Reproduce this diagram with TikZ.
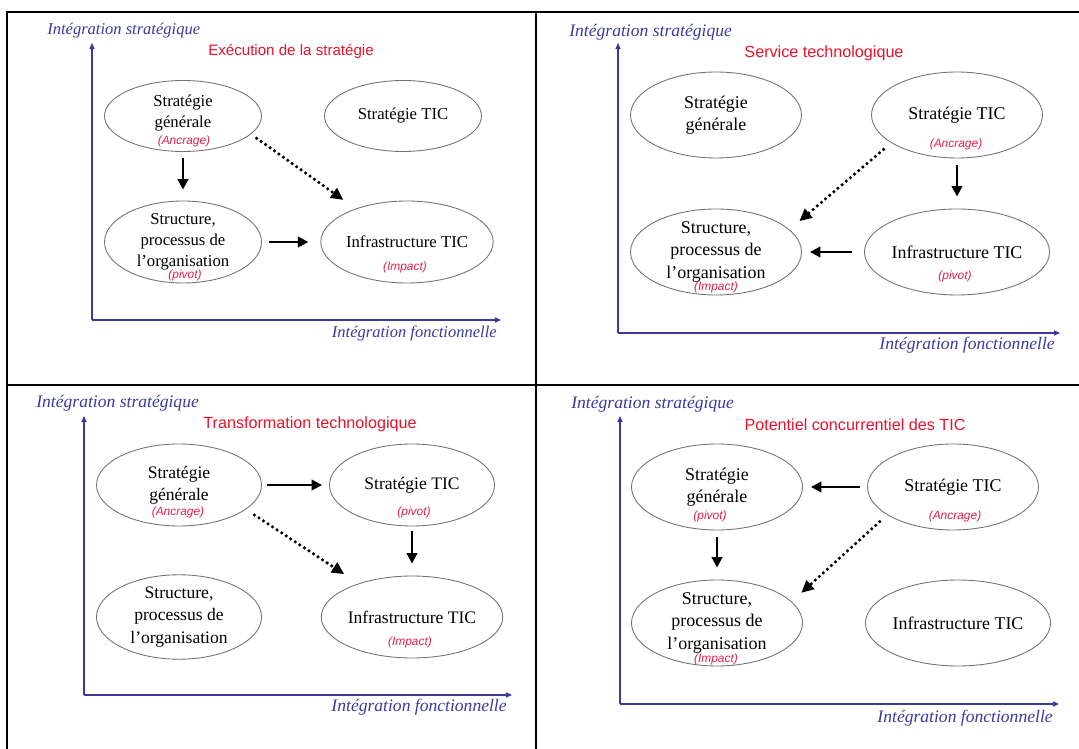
\documentclass[tikz,border=0pt]{standalone}
\usepackage{fontspec}
\setmainfont{Liberation Serif}
\setsansfont{Liberation Sans}
\usetikzlibrary{arrows.meta,shapes.geometric}
\usepackage{xcolor}
\definecolor{AxeBleu}{HTML}{3A3A9E}
\definecolor{TitreRouge}{HTML}{E8132B}
\definecolor{SousRouge}{HTML}{E0204A}

\begin{document}
\begin{tikzpicture}[x=0.02cm, y=-0.02cm,
  cadre/.style={line width=1.1pt},
  axe/.style={AxeBleu, line width=0.6pt, -{Triangle[length=3.5pt,width=3pt]}},
  etiq/.style={AxeBleu, font=\fontsize{10}{12}\selectfont\itshape, inner sep=0pt},
  titre/.style={TitreRouge, font=\sffamily\fontsize{9.2}{11}\selectfont, inner sep=0pt},
  bulle/.style={ellipse, draw=black!55, line width=0.5pt, align=center, inner sep=0pt, minimum width=3.42cm, minimum height=1.72cm, font=\fontsize{10.2}{12.8}\selectfont},
  sous/.style={SousRouge, font=\sffamily\itshape\fontsize{6.8}{8}\selectfont, inner sep=0pt},
  fleche/.style={line width=1.4pt, -{Triangle[length=6pt,width=6pt]}},
  pointille/.style={line width=2pt, line cap=round, dash pattern=on 0pt off 3.1pt, -{Triangle[length=7pt,width=6.5pt]}}]
\useasboundingbox (0,0) rectangle (1079,749);
\draw[cadre] (7.3,12) -- (1079,12);
\draw[cadre] (7.3,384.7) -- (1079,384.7);
\draw[cadre] (7.3,11) -- (7.3,749);
\draw[cadre] (535.7,11) -- (535.7,749);

\begin{scope}[bulle/.append style={minimum width=3.14cm, minimum height=1.64cm, font=\fontsize{9.5}{11.9}\selectfont},
  etiq/.append style={font=\fontsize{9.4}{11}\selectfont\itshape},
  titre/.append style={font=\sffamily\fontsize{8.6}{10}\selectfont}]
\coordinate (o1) at (92,320);
\coordinate (ya1) at (92,43);
\coordinate (xa1) at (501,320);
\draw[axe] (o1) -- (ya1);
\draw[axe] (o1) -- (xa1);
\node[etiq, anchor=west] (is1) at (47,31) {Intégration stratégique};
\node[etiq, anchor=east] (if1) at (497,333) {Intégration fonctionnelle};
\node[titre] (t1) at (291,52) {Exécution de la stratégie};
\node[bulle, minimum height=1.42cm] (sg1) at (183,116) {Stratégie\\générale\\[-6pt]};
\node[bulle, minimum height=1.42cm] (stic1) at (403,116) {Stratégie TIC};
\node[bulle] (sp1) at (183,242) {Structure,\\processus de\\l’organisation};
\node[bulle] (it1) at (407,242) {Infrastructure TIC};
\node[sous] (a1) at (184,141) {(Ancrage)};
\node[sous] (p1) at (185,275) {(pivot)};
\node[sous] (m1) at (405,267) {(Impact)};
\draw[fleche, shorten <=0.12cm, shorten >=0.22cm] (sg1) -- (sp1);
\draw[fleche, shorten <=0.14cm, shorten >=0.24cm] (sp1) -- (it1);
\draw[pointille, shorten <=0.14cm, shorten >=0.3cm] (sg1.-15) -- (it1.147);
\end{scope}

\coordinate (o2) at (618,333);
\coordinate (ya2) at (618,43);
\coordinate (xa2) at (1060,333);
\draw[axe] (o2) -- (ya2);
\draw[axe] (o2) -- (xa2);
\node[etiq, anchor=west] (is2) at (569,32) {Intégration stratégique};
\node[etiq, anchor=east] (if2) at (1055,345) {Intégration fonctionnelle};
\node[titre] (t2) at (824,53) {Service technologique};
\node[bulle] (sg2) at (716,115) {Stratégie\\générale};
\node[bulle] (stic2) at (957,115) {Stratégie TIC};
\node[bulle] (sp2) at (716,252) {Structure,\\processus de\\l’organisation};
\node[bulle] (it2) at (957,252) {Infrastructure TIC};
\node[sous] (a2) at (956,144) {(Ancrage)};
\node[sous] (p2) at (955,276) {(pivot)};
\node[sous] (m2) at (716,287) {(Impact)};
\draw[fleche, shorten <=0.14cm, shorten >=0.24cm] (stic2) -- (it2);
\draw[fleche, shorten <=0.24cm, shorten >=0.16cm] (it2) -- (sp2);
\draw[pointille, shorten <=0.2cm, shorten >=0.26cm] (stic2.203) -- (sp2.17);

\begin{scope}[bulle/.append style={minimum width=3.3cm, minimum height=1.64cm, font=\fontsize{10}{12.6}\selectfont}]
\coordinate (o3) at (84,695);
\coordinate (ya3) at (84,416);
\coordinate (xa3) at (512,695);
\draw[axe] (o3) -- (ya3);
\draw[axe] (o3) -- (xa3);
\node[etiq, anchor=west] (is3) at (36,403) {Intégration stratégique};
\node[etiq, anchor=east] (if3) at (507,707) {Intégration fonctionnelle};
\node[titre] (t3) at (310,424) {Transformation technologique};
\node[bulle] (sg3) at (179,485) {Stratégie\\générale};
\node[bulle] (stic3) at (412,485) {Stratégie TIC};
\node[bulle] (sp3) at (179,617) {Structure,\\processus de\\l’organisation};
\node[bulle] (it3) at (412,617) {Infrastructure TIC};
\node[sous] (a3) at (178,512) {(Ancrage)};
\node[sous] (p3) at (414,512) {(pivot)};
\node[sous] (m3) at (410,642) {(Impact)};
\draw[fleche, shorten <=0.1cm, shorten >=0.14cm] (sg3) -- (stic3);
\draw[fleche, shorten <=0.1cm, shorten >=0.24cm] (stic3) -- (it3);
\draw[pointille, shorten <=0.2cm, shorten >=0.34cm] (sg3.-20) -- (it3.148);
\end{scope}

\coordinate (o4) at (620,704);
\coordinate (ya4) at (620,416);
\coordinate (xa4) at (1059,704);
\draw[axe] (o4) -- (ya4);
\draw[axe] (o4) -- (xa4);
\node[etiq, anchor=west] (is4) at (571,404) {Intégration stratégique};
\node[etiq, anchor=east] (if4) at (1053,718) {Intégration fonctionnelle};
\node[titre] (t4) at (855,425) {Potentiel concurrentiel des TIC};
\node[bulle] (sg4) at (717,487) {Stratégie\\générale};
\node[bulle] (stic4) at (953,487) {Stratégie TIC};
\node[bulle] (sp4) at (717,623) {Structure,\\processus de\\l’organisation};
\node[bulle] (it4) at (958,623) {Infrastructure TIC};
\node[sous] (p4) at (710,516) {(pivot)};
\node[sous] (a4) at (955,516) {(Ancrage)};
\node[sous] (m4) at (716,659) {(Impact)};
\draw[fleche, shorten <=0.14cm, shorten >=0.16cm] (stic4) -- (sg4);
\draw[fleche, shorten <=0.14cm, shorten >=0.24cm] (sg4) -- (sp4);
\draw[pointille, shorten <=0.2cm, shorten >=0.26cm] (stic4.203) -- (sp4.16);
\end{tikzpicture}
\end{document}
